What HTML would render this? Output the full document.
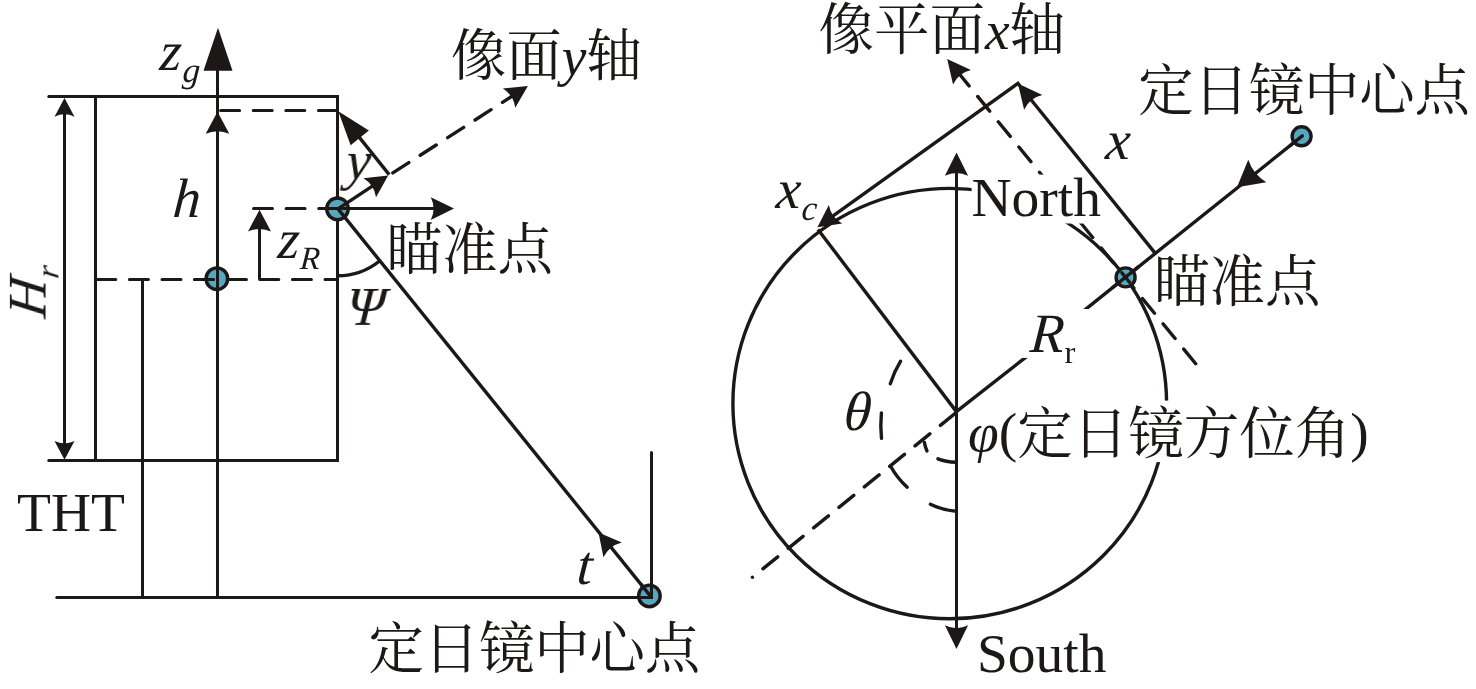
<!DOCTYPE html>
<html lang="zh">
<head>
<meta charset="utf-8">
<title>定日镜 瞄准点 示意图</title>
<style>
html,body{margin:0;padding:0;background:#fff;}
body{width:1476px;height:689px;overflow:hidden;}
svg{display:block;}
.ln{stroke:#1d1818;stroke-width:3.4;fill:none;}
.ln .ah{fill:#1d1818;stroke:none;}
.wb{fill:#fff;stroke:none;}
.tx{will-change:transform;}
text{font-family:"Liberation Serif","Noto Serif CJK SC",serif;fill:#1d1818;}
.it{font-style:italic;}
.cj{font-family:"Noto Serif CJK SC","Liberation Serif",serif;font-weight:400;}
</style>
</head>
<body>
<svg width="1476" height="689" viewBox="0 0 1476 689">
<rect width="1476" height="689" fill="#ffffff"/>
<g class="ln">
<line x1="48.8" y1="96.5" x2="339" y2="96.5" stroke-width="3"/>
<circle class="ah" cx="48.8" cy="96.5" r="1.5"/>
<line x1="48.8" y1="460.5" x2="339" y2="460.5" stroke-width="3"/>
<circle class="ah" cx="48.8" cy="460.5" r="1.5"/>
<line x1="337.5" y1="96.5" x2="337.5" y2="460.5" stroke-width="3"/>
<line x1="95.5" y1="96.5" x2="95.5" y2="460.5" stroke-width="3"/>
<line x1="64.5" y1="110" x2="64.5" y2="448" stroke-width="3"/>
<path class="ah" d="M64.5,98 L74.5,116.8 Q64.5,111.91 54.5,116.8 Z"/>
<path class="ah" d="M64.5,459.8 L54.5,441 Q64.5,445.89 74.5,441 Z"/>
<line x1="217.5" y1="60" x2="217.5" y2="597.5" stroke-width="3"/>
<path class="ah" d="M218,27.7 L232.5,70.8 L203.5,70.8 Z"/>
<path class="ah" d="M217.5,111.8 L229.3,133.8 Q217.5,128.52 205.7,133.8 Z"/>
<line x1="142.5" y1="279.5" x2="142.5" y2="597.5" stroke-width="3"/>
<line x1="56.8" y1="597.5" x2="640" y2="597.5" stroke-linecap="round" stroke-width="3"/>
<line x1="220.6" y1="110.5" x2="337.4" y2="110.5" stroke-dasharray="19 13.6" stroke-linecap="round" stroke-width="3"/>
<line x1="96.8" y1="279.5" x2="337.4" y2="279.5" stroke-dasharray="19 13.6" stroke-linecap="round" stroke-width="3"/>
<line x1="259.5" y1="225" x2="259.5" y2="279.5" stroke-width="3"/>
<path class="ah" d="M259.5,209.7 L271,231.5 Q259.5,226.27 248,231.5 Z"/>
<circle cx="216.9" cy="278.7" r="10.8" fill="#57a7c1"/>
<line x1="217.5" y1="266" x2="217.5" y2="292" stroke-width="3"/>
<line x1="194.6" y1="279.5" x2="213.6" y2="279.5" stroke-linecap="round" stroke-width="3"/>
<line x1="227.2" y1="279.5" x2="246.2" y2="279.5" stroke-linecap="round" stroke-width="3"/>
<circle cx="337.5" cy="208.8" r="10.8" fill="#57a7c1"/>
<line x1="253.5" y1="208.5" x2="338.7" y2="208.5" stroke-dasharray="19 13.6" stroke-linecap="round" stroke-width="3"/>
<line x1="338.7" y1="208.5" x2="440" y2="208.5" stroke-width="3"/>
<path class="ah" d="M454,208.6 L430.8,220.05 Q436.37,208.6 430.8,197.15 Z"/>
<line x1="389.2" y1="174.6" x2="357.1" y2="134.68"/>
<path class="ah" d="M338.3,111.3 L368.85,130.62 L350.61,145.28 Z"/>
<line x1="338.7" y1="208.4" x2="378" y2="182.3"/>
<path class="ah" d="M388.2,175.6 L376.05,197.27 Q374.2,184.88 363.51,178.35 Z"/>
<line x1="392.82" y1="172.86" x2="512.76" y2="95.74" stroke-dasharray="19 13.6" stroke-linecap="round"/>
<path class="ah" d="M527.9,86 L515.25,107.75 Q513.58,95.21 502.87,88.49 Z"/>
<line x1="337.6" y1="208.4" x2="651.5" y2="597.4"/>
<path class="ah" d="M598.5,532.4 L621.81,542.5 Q609.24,545.71 603.45,557.32 Z"/>
<line x1="651.5" y1="452.5" x2="651.5" y2="590" stroke-linecap="round" stroke-width="3"/>
<circle cx="649.4" cy="595.9" r="10.8" fill="#57a7c1"/>
<path d="M641,584.4 L651.5,597.4"/>
<line x1="636" y1="597.5" x2="653" y2="597.5" stroke-width="3"/>
<line x1="651.5" y1="584" x2="651.5" y2="599" stroke-width="3"/>
<path d="M337.6,275.8 A66.5,66.5 0 0 0 379.56,261.05"/>
<ellipse cx="949.75" cy="403.6" rx="216.85" ry="215.2"/>
<line x1="1195.72" y1="363.8" x2="958.58" y2="73.05" stroke-dasharray="19 13.6" stroke-linecap="round"/>
<path class="ah" d="M947.2,59.1 L970.94,69.93 Q958.44,72.88 953.04,84.53 Z"/>
<rect class="wb" x="971.6" y="174.6" width="132" height="48.9"/>
<rect class="wb" x="962" y="400.6" width="410" height="61.5"/>
<line x1="956.5" y1="170" x2="956.5" y2="630" stroke-width="3"/>
<path class="ah" d="M956.5,152.6 L968.1,175.8 Q956.5,170 944.9,175.8 Z"/>
<path class="ah" d="M956.5,648.9 L944.9,625.3 Q956.5,631.2 968.1,625.3 Z"/>
<line x1="818" y1="229.5" x2="956.4" y2="411.6"/>
<path d="M1302,136.1 L1125.4,277.3 L1025,357.9 L956.4,411.6"/>
<line x1="955.16" y1="413.41" x2="755.75" y2="574.59" stroke-dasharray="19 13.6" stroke-linecap="round"/>
<circle class="ah" cx="752.4" cy="577.3" r="1.7"/>
<path class="ah" d="M1237,187.3 L1248.24,159.79 Q1253.21,174.27 1266.29,182.24 Z"/>
<rect class="wb" x="1015" y="309" width="75" height="48.9"/>
<line x1="1154.7" y1="252.6" x2="1030.47" y2="98.95"/>
<path class="ah" d="M1017.9,83.4 L1042.34,95.02 Q1029.56,97.82 1024.14,109.73 Z"/>
<path d="M832.03,216.71 L1017.9,83.4 L1020,86" stroke-linejoin="miter"/>
<path class="ah" d="M817.4,227.2 L828.85,204.9 Q831.17,217.32 842.19,223.51 Z"/>
<circle cx="1125.6" cy="277.4" r="9.5" fill="#57a7c1"/>
<line x1="1112" y1="288" x2="1139" y2="266.4"/>
<line x1="1121.9" y1="272.9" x2="1129.5" y2="282.3" stroke-linecap="round"/>
<circle cx="1301.6" cy="136.3" r="9.5" fill="#57a7c1"/>
<line x1="1302.3" y1="135.9" x2="1290" y2="145.8" stroke-linecap="round"/>
<path d="M900.6,361.2 Q894,372 890.3,383.8" stroke-linecap="round"/>
<path d="M881.4,412.9 Q880.2,425.5 881.5,438.4" stroke-linecap="round"/>
<path d="M956,462.2 Q946,462 937.9,458.8" stroke-linecap="round"/>
<path d="M927,451 Q925,446.5 924.4,442.5" stroke-linecap="round"/>
<path d="M956,511.3 Q942,510 930.4,504.3" stroke-linecap="round"/>
<path d="M907.2,487.2 Q897,478 890.8,466.5" stroke-linecap="round"/>
</g>
<g class="tx">
<text transform="translate(159,70) skewX(-4)" font-size="55.5" class="it">z</text>
<text transform="translate(182,82) skewX(-4)" font-size="35" class="it">g</text>
<text transform="translate(172,217.3) skewX(-4)" font-size="55.5" class="it">h</text>
<text transform="translate(46,319) rotate(-90) skewX(-8)" font-size="54" class="it">H<tspan font-size="32" dy="12" dx="2.5">r</tspan></text>
<text x="450.7" y="75.3" font-size="55.5"><tspan class="cj">像面</tspan><tspan class="it">y</tspan><tspan class="cj">轴</tspan></text>
<text transform="translate(345.3,179) skewX(-4)" font-size="55.5" class="it">y</text>
<text transform="translate(277,257.7) skewX(-4)" font-size="55.5" class="it">z</text>
<text transform="translate(299.6,268.9) skewX(-4)" font-size="32.5" class="it">R</text>
<text x="386.5" y="269" font-size="55.5" class="cj">瞄准点</text>
<text transform="translate(345.2,325) skewX(-4)" font-size="55.5" class="it">Ψ</text>
<text x="17" y="530.5" font-size="55.5">THT</text>
<text transform="translate(576,584) skewX(-4)" font-size="55.5" class="it">t</text>
<text x="368.5" y="668" font-size="55.5" class="cj" letter-spacing="-0.25">定日镜中心点</text>
<text x="818.4" y="49" font-size="55.5"><tspan class="cj">像平面</tspan><tspan class="it">x</tspan><tspan class="cj">轴</tspan></text>
<text x="1138.2" y="110" font-size="55.5" class="cj" letter-spacing="-0.25">定日镜中心点</text>
<text transform="translate(1104.8,159.3) skewX(-4)" font-size="55.5" class="it">x</text>
<text transform="translate(775.3,208.3) skewX(-4)" font-size="55.5" class="it">x</text>
<text transform="translate(801,220) skewX(-4)" font-size="35" class="it">c</text>
<text x="971.5" y="216" font-size="55.5">North</text>
<text x="1154" y="300.5" font-size="55.5" class="cj">瞄准点</text>
<text transform="translate(1029.2,351.6) skewX(-4)" font-size="55.5" class="it">R</text>
<text x="1064.5" y="363" font-size="32.5">r</text>
<text transform="translate(843,430) skewX(-4)" font-size="55.5" class="it">θ</text>
<text x="968" y="451" font-size="55.5"><tspan class="it">φ</tspan>(<tspan class="cj" dy="2">定日镜方位角</tspan><tspan dy="-2">)</tspan></text>
<text x="976.9" y="672.4" font-size="55.5">South</text>
</g>
</svg>
</body>
</html>
